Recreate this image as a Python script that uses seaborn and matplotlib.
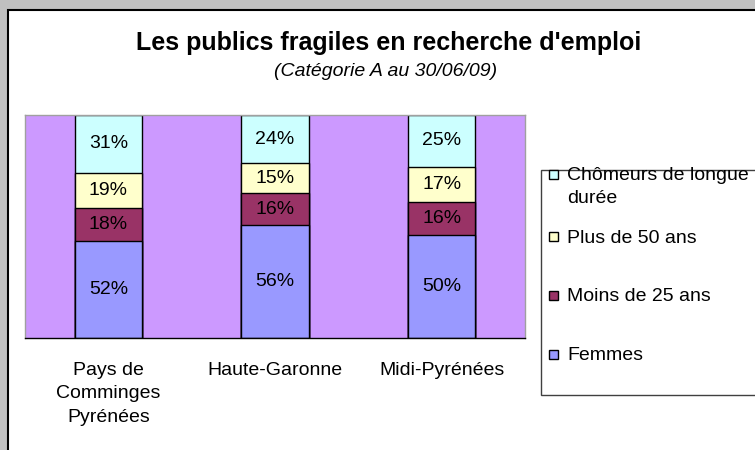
import pandas as pd
import matplotlib.pyplot as plt
import seaborn as sns
from matplotlib.patches import Rectangle

# data
categories = ["Pays de\nComminges\nPyrénées", "Haute-Garonne", "Midi-Pyrénées"]
femmes = [52, 56, 50]
moins_25 = [18, 16, 16]
plus_50 = [19, 15, 17]
chomeurs_ld = [31, 24, 25]

series_names = ["Femmes", "Moins de 25 ans", "Plus de 50 ans", "Chômeurs de longue\ndurée"]
series_colors = ["#9999FF", "#993366", "#FFFFCC", "#CCFFFF"]


def build_frame():
    df = pd.DataFrame({
        "cat": categories,
        "Femmes": femmes,
        "Moins de 25 ans": moins_25,
        "Plus de 50 ans": plus_50,
        "Chômeurs de longue\ndurée": chomeurs_ld,
    })
    total = df[series_names].sum(axis=1)
    for s in series_names:
        df[s + "_pct"] = df[s] / total * 100
    # cumulative tops for stacking
    cum = df[[s + "_pct" for s in series_names]].cumsum(axis=1)
    for s in series_names:
        df[s + "_top"] = cum[s + "_pct"]
    return df


def main():
    sns.set_style("white")
    plt.rcParams["font.family"] = ["Liberation Sans", "DejaVu Sans"]
    plt.rcParams["text.color"] = "black"
    plt.rcParams["xtick.color"] = "black"

    df = build_frame()

    fig = plt.figure(figsize=(7.55, 4.5), dpi=100)
    fig.patch.set_facecolor("#C0C0C0")
    # white chart area with dark border on left/top
    fig.patches.append(Rectangle((8 / 755, -0.1), 1.0, 1.1 - 10 / 450, transform=fig.transFigure,
                                 facecolor="white", edgecolor="black", linewidth=1.5, zorder=-1))

    ax = fig.add_axes([25 / 755, 1 - 338 / 450, 500 / 755, 223 / 450])
    ax.set_facecolor("#CC99FF")

    # draw from the top of the stack down so each layer covers the next
    for s, c in reversed(list(zip(series_names, series_colors))):
        sns.barplot(x="cat", y=s + "_top", data=df, color=c, width=0.405,
                    edgecolor="black", linewidth=1, saturation=1, ax=ax, order=categories)

    # segment labels
    for i, row in df.iterrows():
        for s in series_names:
            mid = row[s + "_top"] - row[s + "_pct"] / 2
            ax.text(i, mid, f"{row[s]}%", ha="center", va="center", fontsize=14, color="black")

    ax.set_xlim(-0.5, 2.5)
    ax.set_ylim(0, 100)
    ax.set_xlabel("")
    ax.set_ylabel("")
    ax.set_yticks([])
    ax.set_xticks([0, 1, 2])
    ax.set_xticklabels(categories, fontsize=14, linespacing=1.5)
    ax.tick_params(axis="x", which="major", length=0, pad=17)
    ax.set_xticks([-0.5, 0.5, 1.5, 2.5], minor=True)
    ax.tick_params(axis="x", which="minor", length=5, width=1, color="black", direction="out")
    for side in ["top", "left", "right"]:
        ax.spines[side].set_color("#A0A0A0")
        ax.spines[side].set_linewidth(1)
    ax.spines["bottom"].set_color("black")
    ax.spines["bottom"].set_linewidth(1)

    # titles
    fig.text(389 / 755, 1 - 43 / 450, "Les publics fragiles en recherche d'emploi",
             ha="center", va="center", fontsize=18, fontweight="bold")
    fig.text(386 / 755, 1 - 71 / 450, "(Catégorie A au 30/06/09)",
             ha="center", va="center", fontsize=14, style="italic")

    # legend box drawn by hand to match the reference layout
    fig.patches.append(Rectangle((541 / 755, 1 - 395 / 450), 0.5, 225 / 450,
                                 transform=fig.transFigure, facecolor="white",
                                 edgecolor="#404040", linewidth=1, zorder=1))
    legend_y = [174, 237, 295, 354]
    order = [3, 2, 1, 0]
    for y, k in zip(legend_y, order):
        fig.patches.append(Rectangle((549 / 755, 1 - (y + 4.5) / 450), 9 / 755, 9 / 450,
                                     transform=fig.transFigure, facecolor=series_colors[k],
                                     edgecolor="black", linewidth=1, zorder=2))
        fig.text(567 / 755, 1 - (y - 7) / 450, series_names[k], ha="left", va="top",
                 fontsize=14, linespacing=1.45, zorder=3)

    fig.savefig("out.png", dpi=100)
    plt.close(fig)


if __name__ == "__main__":
    main()
